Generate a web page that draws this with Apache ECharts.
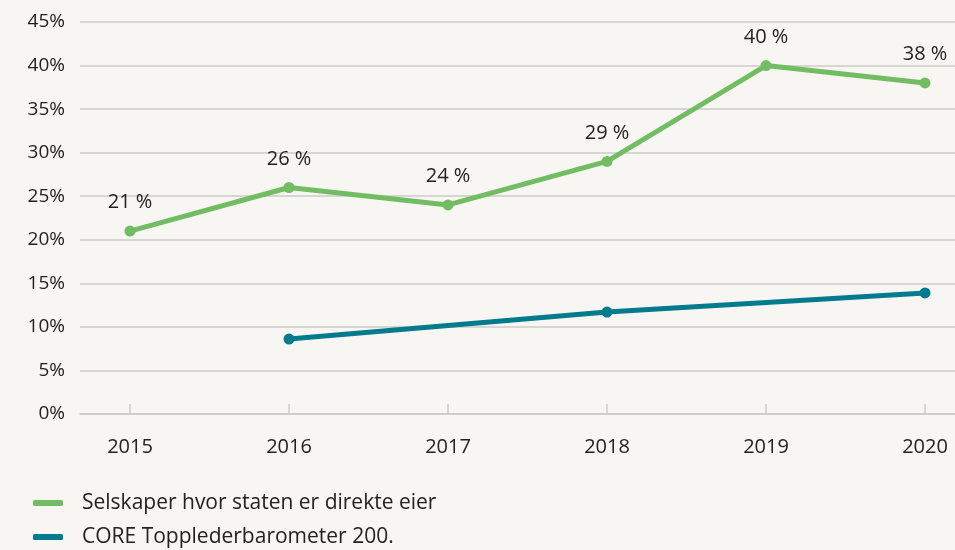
<!DOCTYPE html>
<html>
<head>
<meta charset="utf-8">
<script src="https://cdn.jsdelivr.net/npm/echarts@6/dist/echarts.min.js"></script>
<style>
  html, body { margin: 0; padding: 0; background: #f7f6f2; }
  #chart { width: 955px; height: 550px; }
</style>
</head>
<body>
<div id="chart"></div>
<script>
// Share of women (%) per year
const years = [2015, 2016, 2017, 2018, 2019, 2020];
const stateOwnedYears = [2015, 2016, 2017, 2018, 2019, 2020];
const stateOwnedValues = [21, 26, 24, 29, 40, 38];
const coreYears = [2016, 2018, 2020];
const coreValues = [8.6, 11.7, 13.9];
const seriesNames = ['Selskaper hvor staten er direkte eier', 'CORE Topplederbarometer 200.'];

const pair = (xs, ys) => xs.map((x, i) => [x, ys[i]]);

const font = '"Open Sans", "Noto Sans", sans-serif';
const textColor = '#222';
const gridColor = '#cccbc8';

const chart = echarts.init(document.getElementById('chart'));
chart.setOption({
  backgroundColor: '#f7f6f2',
  animation: false,
  textStyle: { fontFamily: font, color: textColor },
  grid: { left: 80, right: 0, top: 22, bottom: 136 },
  legend: {
    orient: 'vertical',
    left: 33,
    top: 492,
    padding: 0,
    itemWidth: 30,
    itemHeight: 6,
    itemGap: 12,
    icon: 'roundRect',
    textStyle: { fontFamily: font, fontSize: 21, lineHeight: 22, color: textColor, padding: [0, 0, 0, 14] },
    data: seriesNames
  },
  xAxis: {
    type: 'value',
    min: 2015 - 50 / 159,
    max: 2020 + 30 / 159,
    splitLine: { show: false },
    axisLine: { show: true, lineStyle: { color: gridColor, width: 1.5 } },
    axisTick: { show: true, inside: true, length: 10, customValues: years, lineStyle: { color: gridColor, width: 1.5 } },
    axisLabel: { customValues: years, color: textColor, fontSize: 20, margin: 23, fontFamily: font, formatter: v => String(v) }
  },
  yAxis: {
    type: 'value',
    min: 0,
    max: 45,
    interval: 5,
    axisLine: { show: false },
    axisTick: { show: false },
    splitLine: { lineStyle: { color: gridColor, width: 1.5 } },
    axisLabel: { formatter: '{value}%', color: textColor, fontSize: 19, margin: 15, fontFamily: font }
  },
  series: [
    {
      name: seriesNames[0],
      type: 'line',
      data: pair(stateOwnedYears, stateOwnedValues),
      color: '#72bd63',
      lineStyle: { width: 5 },
      symbol: 'circle',
      symbolSize: 11,
      label: {
        show: true,
        position: 'top',
        distance: 13,
        formatter: p => p.value[1] + ' %',
        fontSize: 20,
        color: textColor,
        fontFamily: font
      }
    },
    {
      name: seriesNames[1],
      type: 'line',
      data: pair(coreYears, coreValues),
      color: '#027b8e',
      lineStyle: { width: 5 },
      symbol: 'circle',
      symbolSize: 11
    }
  ]
});
</script>
</body>
</html>
